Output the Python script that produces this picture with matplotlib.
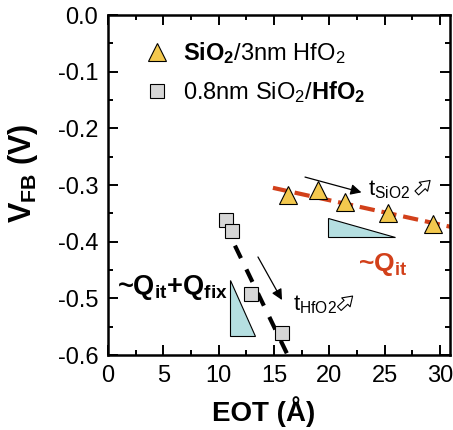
import numpy as np
import matplotlib
matplotlib.use('Agg')
import matplotlib.pyplot as plt
from matplotlib.patches import Polygon

plt.rcParams['font.family'] = ['Liberation Sans', 'DejaVu Sans']
plt.rcParams['mathtext.fontset'] = 'custom'
plt.rcParams['mathtext.rm'] = 'Liberation Sans'
plt.rcParams['mathtext.it'] = 'Liberation Sans:italic'
plt.rcParams['mathtext.bf'] = 'Liberation Sans:bold'
plt.rcParams['lines.scale_dashes'] = False

# SiO2/3nm HfO2 (triangles)
eot_sio2 = [16.3, 19.0, 21.4, 25.3, 29.4]
vfb_sio2 = [-0.317, -0.309, -0.330, -0.349, -0.369]
# 0.8nm SiO2/HfO2 (squares)
eot_hfo2 = [10.7, 11.2, 12.9, 15.7]
vfb_hfo2 = [-0.362, -0.381, -0.492, -0.561]

# guide lines (dashed fits)
fit_qit_x = [14.9, 31.0]
fit_qit_y = [-0.305, -0.374]
fit_fix_x = [11.47, 16.6]
fit_fix_y = [-0.407, -0.615]

# slope triangles
tri_qit = [(19.9, -0.358), (19.9, -0.392), (25.9, -0.392)]
tri_fix = [(11.0, -0.467), (11.0, -0.566), (13.3, -0.566)]

# arrows: (start, end)
arrow_sio2 = ((17.8, -0.286), (22.9, -0.313))
arrow_hfo2 = ((13.55, -0.427), (15.72, -0.503))
hollow_sio2 = ((27.9, -0.314), (29.1, -0.292))
hollow_hfo2 = ((20.9, -0.518), (22.1, -0.496))

yticks = [-0.6, -0.5, -0.4, -0.3, -0.2, -0.1, 0.0]
ytick_labels = ['-0.6', '-0.5', '-0.4', '-0.3', '-0.2', '-0.1', '0.0']

red = '#d2401a'
yellow = '#f3c84e'
gray = '#d6d6d6'
cyan = '#b5dfe1'

fig = plt.figure(figsize=(4.53, 4.30), dpi=100)
ax = fig.add_axes([108/453, 75/430, 342/453, 340/430])

ax.plot(fit_qit_x, fit_qit_y, color=red, lw=3, dashes=(11, 5), zorder=2)
ax.plot(fit_fix_x, fit_fix_y, color='black', lw=3, dashes=(10, 9), zorder=2)

ax.add_patch(Polygon(tri_qit, closed=True, fc=cyan, ec='black', lw=0.8, zorder=1))
ax.add_patch(Polygon(tri_fix, closed=True, fc=cyan, ec='black', lw=0.8, zorder=1))

ax.plot(eot_sio2, vfb_sio2, '^', ms=13, mfc=yellow, mec='black', mew=0.8,
        ls='none', zorder=3, label=r'$\mathbf{SiO_2}$/3nm HfO$_2$')
ax.plot(eot_hfo2, vfb_hfo2, 's', ms=10, mfc=gray, mec='black', mew=0.8,
        ls='none', zorder=3, label=r'0.8nm SiO$_2$/$\mathbf{HfO_2}$')

for (x0, y0), (x1, y1) in [arrow_sio2, arrow_hfo2]:
    ax.annotate('', xy=(x1, y1), xytext=(x0, y0),
                arrowprops=dict(arrowstyle='-|>', color='black', lw=0.9,
                                mutation_scale=16, shrinkA=0, shrinkB=0))
for (x0, y0), (x1, y1) in [hollow_sio2, hollow_hfo2]:
    ax.annotate('', xy=(x1, y1), xytext=(x0, y0),
                arrowprops=dict(arrowstyle='simple,head_length=0.6,head_width=0.8,tail_width=0.35',
                                fc='white', ec='black', lw=0.8,
                                mutation_scale=11, shrinkA=0, shrinkB=0))

ax.text(23.5, -0.3175, r't$_{\mathrm{SiO2}}$', fontsize=16, va='baseline')
ax.text(16.7, -0.522, r't$_{\mathrm{HfO2}}$', fontsize=16, va='baseline')
ax.text(22.6, -0.441, r'~$\mathbf{Q_{it}}$', fontsize=19, fontweight='bold',
        color=red, va='center')
ax.text(0.8, -0.48, r'~$\mathbf{Q_{it}}$+$\mathbf{Q_{fix}}$', fontsize=19.5,
        fontweight='bold', va='center')

ax.set_xlim(0, 30.9)
ax.set_ylim(-0.6, 0.0)
ax.set_xticks(np.arange(0, 31, 5))
ax.set_xticks(np.arange(0, 31, 2.5), minor=True)
ax.set_yticks(yticks)
ax.set_yticklabels(ytick_labels)
ax.set_yticks(np.arange(-0.6, 0.01, 0.05), minor=True)
ax.tick_params(which='both', direction='in', top=True, right=True,
               width=1.4, labelsize=17)
ax.tick_params(which='major', length=7, pad=7)
ax.tick_params(which='minor', length=3.6)
for s in ax.spines.values():
    s.set_linewidth(1.8)

ax.set_xlabel('EOT (Å)', fontsize=20, fontweight='bold', va='center')
ax.xaxis.set_label_coords(0.456, -0.165)
ax.set_ylabel(r'$\mathbf{V_{FB}}$ (V)', fontsize=22, fontweight='bold',
              va='center', ha='center')
ax.yaxis.set_label_coords(-0.25, 0.535)

ax.legend(loc='upper left', bbox_to_anchor=(0.108, 0.926), frameon=False,
          handlelength=1.0, handletextpad=0.6, labelspacing=0.55,
          borderaxespad=0, borderpad=0, fontsize=17)

fig.savefig('out.png', dpi=100)
